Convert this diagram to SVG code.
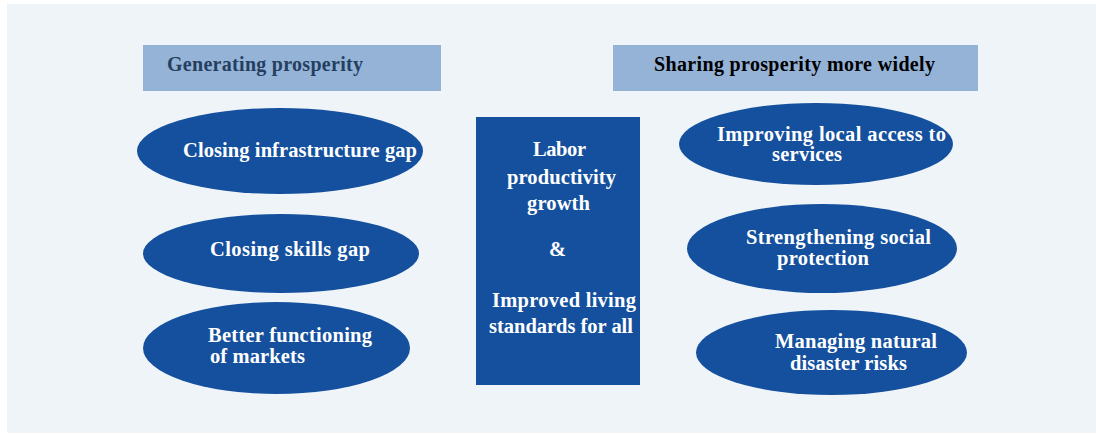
<svg xmlns="http://www.w3.org/2000/svg" width="1096" height="435" viewBox="0 0 1096 435">
<style>
.bg{fill:#EFF4F9}
.hdr{fill:#95B3D7}
.node{fill:#14509D}
.t{font-family:"Liberation Serif","Times New Roman",serif;font-weight:bold;font-size:20.5px}
.w{fill:#FFFFFF}
.hl{fill:#243F60;font-size:20px}
.hr{fill:#000000;font-size:20px}
</style>
<rect x="0" y="0" width="1096" height="435" fill="#FFFFFF"/>
<rect class="bg" x="7" y="4" width="1089" height="429"/>
<g id="hdr-generating">
<rect class="hdr" x="143" y="45" width="298" height="46"/>
<text class="t hl" x="167" y="71" textLength="196">Generating prosperity</text>
</g>
<g id="hdr-sharing">
<rect class="hdr" x="613" y="45" width="365" height="46"/>
<text class="t hr" x="654" y="71" textLength="281">Sharing prosperity more widely</text>
</g>
<g id="n-infra">
<ellipse class="node" cx="280" cy="151" rx="143" ry="43"/>
<text class="t w" x="183" y="157" textLength="234">Closing infrastructure gap</text>
</g>
<g id="n-skills">
<ellipse class="node" cx="281" cy="253.5" rx="138" ry="39.5"/>
<text class="t w" x="210" y="256" textLength="160">Closing skills gap</text>
</g>
<g id="n-markets">
<ellipse class="node" cx="276.5" cy="348" rx="133.5" ry="46"/>
<text class="t w" x="208" y="342" textLength="164">Better functioning</text>
<text class="t w" x="210" y="363" textLength="95">of markets</text>
</g>
<g id="n-center">
<rect class="node" x="476" y="117" width="164" height="268"/>
<text class="t w" x="533" y="156" textLength="53">Labor</text>
<text class="t w" x="507" y="184" textLength="109">productivity</text>
<text class="t w" x="527" y="210" textLength="63">growth</text>
<text class="t w" x="549" y="256">&amp;</text>
<text class="t w" x="492" y="307" textLength="144">Improved living</text>
<text class="t w" x="489" y="333" textLength="144">standards for all</text>
</g>
<g id="n-access">
<ellipse class="node" cx="816" cy="144" rx="137" ry="41"/>
<text class="t w" x="717" y="141" textLength="229">Improving local access to</text>
<text class="t w" x="772" y="161" textLength="70">services</text>
</g>
<g id="n-social">
<ellipse class="node" cx="822" cy="248.5" rx="135" ry="44.5"/>
<text class="t w" x="746" y="244" textLength="185">Strengthening social</text>
<text class="t w" x="777" y="265" textLength="92">protection</text>
</g>
<g id="n-disaster">
<ellipse class="node" cx="831.5" cy="352.5" rx="135.5" ry="42.5"/>
<text class="t w" x="775" y="348" textLength="162">Managing natural</text>
<text class="t w" x="790" y="370" textLength="117">disaster risks</text>
</g>
<g id="connectors"></g>
</svg>
